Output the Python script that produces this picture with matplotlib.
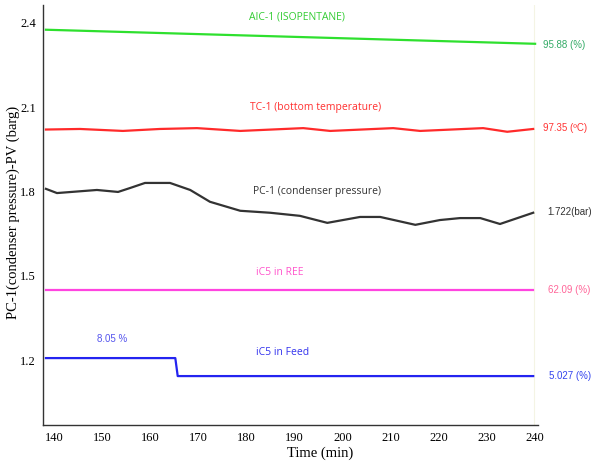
import numpy as np
import matplotlib.pyplot as plt

# AIC-1 (isopentane)
aic_t = [138.3, 240.0]
aic_v = [2.375, 2.325]

# TC-1 (bottom temperature)
tc_t = [138.3, 145.4, 154.3, 162.0, 169.7, 178.7, 191.8, 197.4, 210.5, 216.1, 229.2, 234.2, 239.6]
tc_v = [2.020, 2.022, 2.015, 2.022, 2.025, 2.015, 2.025, 2.015, 2.025, 2.015, 2.025, 2.012, 2.022]

# PC-1 (condenser pressure)
pc_t = [138.3, 140.6, 148.9, 153.3, 155.8, 158.9, 164.1, 168.3, 172.4, 178.7, 184.9,
        191.1, 196.8, 203.6, 207.8, 215.1, 220.2, 224.4, 228.6, 232.7, 239.6]
pc_v = [1.809, 1.794, 1.805, 1.798, 1.812, 1.830, 1.830, 1.805, 1.763, 1.731, 1.724,
        1.713, 1.688, 1.709, 1.709, 1.681, 1.698, 1.705, 1.705, 1.684, 1.724]

# iC5 in REE
ree_t = [138.3, 239.6]
ree_v = [1.449, 1.449]

# iC5 in Feed
feed_t = [138.3, 165.2, 165.7, 239.6]
feed_v = [1.207, 1.207, 1.143, 1.143]

xticks = [140, 150, 160, 170, 180, 190, 200, 210, 220, 230, 240]
yticks = [1.2, 1.5, 1.8, 2.1, 2.4]

fig = plt.figure(figsize=(5.95, 4.62), dpi=100)
ax = fig.add_axes([0.0723, 0.0801, 0.8319, 0.9091])

lw = 1.6
ax.plot(aic_t, aic_v, color='#2ee02e', lw=lw)
ax.plot(tc_t, tc_v, color='#ff2a2a', lw=lw)
ax.plot(pc_t, pc_v, color='#333333', lw=lw, solid_joinstyle='round')
ax.plot(ree_t, ree_v, color='#ff44e0', lw=lw)
ax.plot(feed_t, feed_v, color='#2424f0', lw=lw)

ax.axvline(239.8, color='#f4f4e4', lw=0.8, zorder=0)

ax.set_xlim(137.7, 240.6)
ax.set_ylim(0.969, 2.463)
ax.set_xticks(xticks)
ax.set_yticks(yticks)
ax.set_yticklabels([f'{v:.1f}' for v in yticks])

for s in ['top', 'right']:
    ax.spines[s].set_visible(False)
for s in ['left', 'bottom']:
    ax.spines[s].set_color('#333333')
    ax.spines[s].set_linewidth(1.0)

ax.tick_params(length=0, labelsize=9, pad=5)
for lab in ax.get_xticklabels() + ax.get_yticklabels():
    lab.set_family('Liberation Serif')

ax.set_xlabel('Time (min)', family='Liberation Serif', fontsize=10.5)
ax.set_ylabel('PC-1(condenser pressure)-PV (barg)', family='Liberation Serif', fontsize=10.5)
ax.xaxis.set_label_coords(0.56, -0.067)
ax.yaxis.set_label_coords(-0.06, 0.507)
ax.xaxis.label.set_va('center')
ax.yaxis.label.set_va('center')

sans = 'Open Sans'
ax.text(190.5, 2.421, 'AIC-1 (ISOPENTANE)', color='#33cc33', fontsize=7.5, family=sans, ha='center', va='center')
ax.text(194.3, 2.100, 'TC-1 (bottom temperature)', color='#ff3030', fontsize=7.5, family=sans, ha='center', va='center')
ax.text(194.7, 1.801, 'PC-1 (condenser pressure)', color='#333333', fontsize=7.5, family=sans, ha='center', va='center')
ax.text(187.0, 1.510, 'iC5 in REE', color='#ff55cc', fontsize=7.5, family=sans, ha='center', va='center')
ax.text(187.6, 1.228, 'iC5 in Feed', color='#3333ee', fontsize=7.5, family=sans, ha='center', va='center')
ax.text(152.1, 1.275, '8.05 %', color='#5555ee', fontsize=7, family='Liberation Sans', ha='center', va='center')

right = 'Liberation Sans'
ax.text(241.7, 2.321, '95.88 (%)', color='#33aa66', fontsize=7, family=right, va='center', clip_on=False)
ax.text(241.7, 2.026, '97.35 (ºC)', color='#ff3333', fontsize=7, family=right, va='center', clip_on=False)
ax.text(242.5, 1.727, '1.722(bar)', color='#333333', fontsize=7, family=right, va='center', clip_on=False)
ax.text(242.7, 1.449, '62.09 (%)', color='#ff6699', fontsize=7, family=right, va='center', clip_on=False)
ax.text(242.9, 1.143, '5.027 (%)', color='#3344ee', fontsize=7, family=right, va='center', clip_on=False)

fig.savefig('out.png', dpi=100)
